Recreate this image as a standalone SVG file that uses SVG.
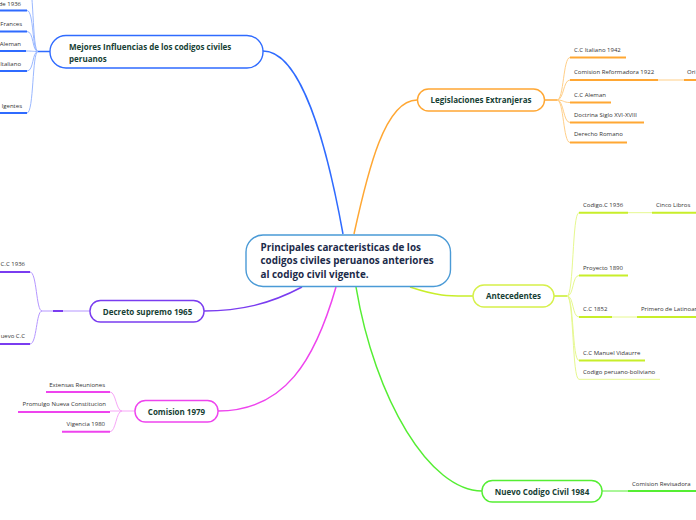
<svg xmlns="http://www.w3.org/2000/svg" width="696" height="520" viewBox="0 0 696 520">
<style>
.bg{fill:#ffffff}
.node{fill:#ffffff;stroke-width:1.4}
.main{font-family:"Open Sans","Noto Sans",sans-serif;font-weight:bold;font-size:8px;fill:#173f35}
.center{font-family:"Open Sans","Noto Sans",sans-serif;font-weight:bold;font-size:9.9px;fill:#1c2b4a}
.sub{font-family:"Open Sans","Noto Sans",sans-serif;font-size:6px;fill:#333333}
.end{text-anchor:end}
.mid{text-anchor:middle}
.conn path{fill:none}
.blue{stroke:#2f6bff}
.bluel{stroke:#9ab8ff}
.org{stroke:#ffa733}
.orgl{stroke:#ffcf88}
.lime{stroke:#c8ee2a}
.limel{stroke:#e6f88f}
.grn{stroke:#55ee33}
.pur{stroke:#7a3cf0}
.purl{stroke:#b596ff}
.mag{stroke:#ee44ee}
.magl{stroke:#f7a6f7}
.m{stroke-width:1.5}
.c{stroke-width:1}
.u{stroke-width:2}
</style>
<rect class="bg" x="0" y="0" width="696" height="520"/>
<g id="connectors" class="conn">
  <path class="blue m" d="M343,234 C326,140 300,51 263,51"/>
  <path class="org m" d="M354,234 C368,170 385,100 417,100"/>
  <path class="lime m" d="M410,287 C440,297 450,296 473,296"/>
  <path class="grn m" d="M356,287 C375,400 430,491 482,491"/>
  <path class="pur m" d="M302,287 C270,304 240,311 204,311"/>
  <path class="mag m" d="M336,287 C315,360 285,411 218,411"/>
  <path class="blue m" d="M50,51.5 H38"/>
  <path class="bluel c" d="M38,51.5 C32,51.5 34,10.5 27,10.5"/>
  <path class="bluel c" d="M38,51.5 C32,51.5 34,-20 28,-20"/>
  <path class="bluel c" d="M38,51.5 C32,51.5 34,31.5 27,31.5"/>
  <path class="bluel c" d="M38,51.5 C32,51.5 33,51 26,51"/>
  <path class="bluel c" d="M38,51.5 C32,51.5 34,71 27,71"/>
  <path class="bluel c" d="M38,51.5 C32,51.5 34,113 27,113"/>
  <path class="blue u" d="M0,10.5 H27 M0,31.5 H27 M0,51 H26 M0,71 H27 M0,113 H27"/>
  <path class="org m" d="M545,100 H557"/>
  <path class="orgl c" d="M557,100 C564,100 563,57.5 570,57.5"/>
  <path class="orgl c" d="M557,100 C564,100 563,80 570,80"/>
  <path class="orgl c" d="M557,100 C564,100 563,102.5 570,102.5"/>
  <path class="orgl c" d="M557,100 C564,100 563,122.5 570,122.5"/>
  <path class="orgl c" d="M557,100 C564,100 563,142.5 570,142.5"/>
  <path class="org u" d="M570,57.5 H626 M570,80 H658 M684,80 H696 M570,102.5 H611 M570,122.5 H644 M570,142.5 H627"/>
  <path class="orgl c" d="M658,80 H684"/>
  <path class="lime m" d="M554,296 H567"/>
  <path class="limel c" d="M567,296 C574,296 572,212.7 579,212.7"/>
  <path class="limel c" d="M567,296 C574,296 572,275.5 579,275.5"/>
  <path class="limel c" d="M567,296 C574,296 572,317 579,317"/>
  <path class="limel c" d="M567,296 C574,296 572,360.5 579,360.5"/>
  <path class="limel c" d="M567,296 C574,296 572,379.3 579,379.3"/>
  <path class="lime u" d="M579,212.7 H628 M652,212.7 H696 M579,275.5 H628 M579,317 H612 M637,317 H696 M579,360.5 H645"/>
  <path class="limel c" d="M628,212.7 H652 M612,317 H637"/>
  <path class="limel c" d="M579,379.3 H660"/>
  <path class="grn c" d="M602,491 H628"/>
  <path class="grn u" d="M628,491 H696"/>
  <path class="purl c" d="M90,311 H42"/>
  <path class="pur u" d="M53,311 H63"/>
  <path class="purl c" d="M42,311 C36,311 37,272 30,272"/>
  <path class="purl c" d="M42,311 C36,311 37,344 30,344"/>
  <path class="pur u" d="M0,272 H30 M0,344 H30"/>
  <path class="magl c" d="M135,411 H122"/>
  <path class="magl c" d="M122,411 C116,411 116,392 110,392"/>
  <path class="magl c" d="M122,411 H110"/>
  <path class="magl c" d="M122,411 C116,411 116,431.7 110,431.7"/>
  <path class="mag u" d="M46,392 H110 M18,412 H110 M62,431.7 H110"/>
</g>
<g id="central">
  <rect class="node" x="246" y="235" width="204.5" height="51.5" rx="17" stroke="#4a9ad6"/>
  <text class="center" x="260.5" y="250.5">Principales caracteristicas de los</text>
  <text class="center" x="260.5" y="264">codigos civiles peruanos anteriores</text>
  <text class="center" x="260.5" y="277.5">al codigo civil vigente.</text>
</g>
<g id="mejores">
  <rect class="node" x="50" y="35.5" width="213" height="32.5" rx="16" stroke="#2f6bff"/>
  <text class="main" x="69" y="50">Mejores Influencias de los codigos civiles</text>
  <text class="main" x="69" y="61.5">peruanos</text>
</g>
<g id="mejores-children">
  <text class="sub end" x="21" y="6">de 1936</text>
  <text class="sub end" x="22" y="26">Frances</text>
  <text class="sub end" x="21" y="46">Aleman</text>
  <text class="sub end" x="21" y="66">Italiano</text>
  <text class="sub end" x="22" y="108">lgentes</text>
</g>
<g id="legislaciones">
  <rect class="node" x="417.5" y="89" width="127" height="22" rx="11" stroke="#ffa733"/>
  <text class="main mid" x="481" y="103">Legislaciones Extranjeras</text>
</g>
<g id="legislaciones-children">
  <text class="sub" x="574" y="51.5">C.C Italiano 1942</text>
  <text class="sub" x="574" y="74">Comision Reformadora 1922</text>
  <text class="sub" x="687" y="74">Ori</text>
  <text class="sub" x="574" y="96.5">C.C Aleman</text>
  <text class="sub" x="574" y="116.5">Doctrina Siglo XVI-XVIII</text>
  <text class="sub" x="574" y="136">Derecho Romano</text>
</g>
<g id="antecedentes">
  <rect class="node" x="473" y="285" width="81" height="22" rx="11" stroke="#d6f04a"/>
  <text class="main mid" x="513.5" y="299">Antecedentes</text>
</g>
<g id="antecedentes-children">
  <text class="sub" x="583" y="207">Codigo.C 1936</text>
  <text class="sub" x="656" y="207">Cinco Libros</text>
  <text class="sub" x="583" y="269.5">Proyecto 1890</text>
  <text class="sub" x="583" y="310.5">C.C 1852</text>
  <text class="sub" x="641" y="310.5">Primero de Latinoar</text>
  <text class="sub" x="583" y="354.5">C.C Manuel Vidaurre</text>
  <text class="sub" x="583" y="373.5">Codigo peruano-boliviano</text>
</g>
<g id="nuevo">
  <rect class="node" x="482" y="480.5" width="120" height="21.5" rx="10.5" stroke="#55ee33"/>
  <text class="main mid" x="542" y="494.5">Nuevo Codigo Civil 1984</text>
</g>
<g id="nuevo-children">
  <text class="sub" x="632" y="485.5">Comision Revisadora</text>
</g>
<g id="decreto">
  <rect class="node" x="90" y="300.5" width="114" height="21.5" rx="10.5" stroke="#7a3cf0"/>
  <text class="main mid" x="147.5" y="314.5">Decreto supremo 1965</text>
</g>
<g id="decreto-children">
  <text class="sub end" x="25" y="266">C.C 1936</text>
  <text class="sub end" x="25" y="338">uevo C.C</text>
</g>
<g id="comision">
  <rect class="node" x="135" y="400.5" width="83" height="21.5" rx="10.5" stroke="#ee44ee"/>
  <text class="main mid" x="176.5" y="414.5">Comision 1979</text>
</g>
<g id="comision-children">
  <text class="sub end" x="105" y="386.5">Extensas Reuniones</text>
  <text class="sub end" x="106" y="406">Promulgo Nueva Constitucion</text>
  <text class="sub end" x="105" y="426">Vigencia 1980</text>
</g>
</svg>
